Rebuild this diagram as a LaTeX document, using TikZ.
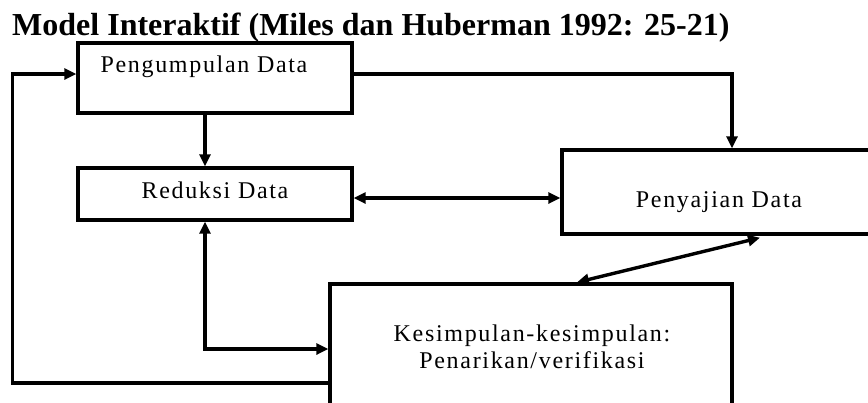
\documentclass[tikz,border=0pt]{standalone}
\usepackage{fontspec}
\setmainfont{Liberation Serif}
\newfontfamily\bodyfont[LetterSpace=7]{Liberation Serif}
\usetikzlibrary{arrows.meta,calc}
\begin{document}
\begin{tikzpicture}[x=1pt,y=-1pt,
  box/.style={draw,line width=3.4pt,inner sep=0pt},
  lbl/.style={anchor=base,inner sep=0pt,font=\bodyfont\fontsize{24}{29}\selectfont},
  conn/.style={line width=3.4pt},
  tip/.style={-{Triangle[length=12pt,width=11pt]}},
  tips/.style={{Triangle[length=12pt,width=11pt]}-{Triangle[length=12pt,width=11pt]}}]
\useasboundingbox (0,0) rectangle (868,402);
\clip (0,0) rectangle (868,402);
\fill[white] (0,0) rectangle (868,402);
% title
\node[anchor=base west,inner sep=0pt,font=\fontsize{32}{38}\selectfont\bfseries] (title) at (12,35) {Model Interaktif (Miles dan Huberman 1992: 25-21)};
% boxes
\node[box,minimum width=274pt,minimum height=70pt] (p) at (215,78) {};
\node[box,minimum width=274pt,minimum height=52pt] (r) at (215,194) {};
\node[box,minimum width=340pt,minimum height=84pt] (s) at (732,192) {};
\node[box,minimum width=402pt,minimum height=130pt] (k) at (531,349) {};
% labels
\node[lbl] (pt) at (204,72) {Pengumpulan Data};
\node[lbl] (rt) at (215,198) {Reduksi Data};
\node[lbl] (st) at (719,207) {Penyajian Data};
\node[lbl] (kt1) at (532,341) {Kesimpulan-kesimpulan:};
\node[lbl] (kt2) at (532,368) {Penarikan/verifikasi};
% connectors
\draw[conn,tip] ([xshift=-10pt]p.south) -- ([xshift=-10pt]r.north);
\draw[conn,tips] ([yshift=-4pt]r.east) -- ([yshift=-6pt]s.west);
\draw[conn,tip] ([yshift=4pt]p.east) -| (s.north);
\draw[conn,tips] ([xshift=28pt,yshift=-2pt]s.south) -- ([xshift=46pt]k.north);
\draw[conn,tips] ([xshift=-10pt]r.south) |- (k.west);
\draw[conn,tip] ([yshift=-34pt]k.west) -- ++(-316,0) |- ([yshift=4pt]p.west);
\end{tikzpicture}
\end{document}
